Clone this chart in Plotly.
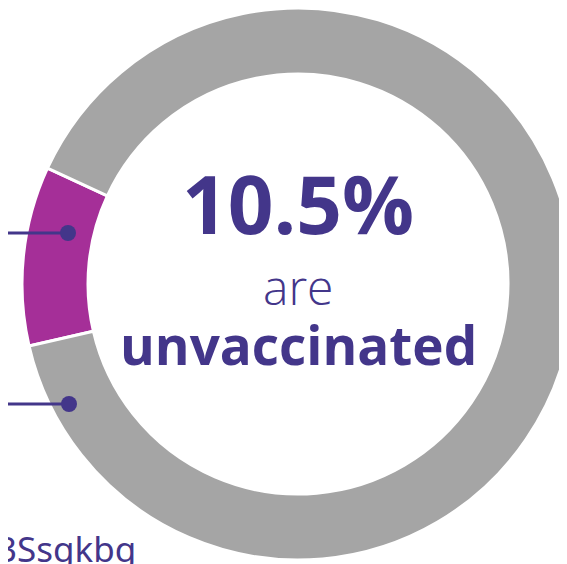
import plotly.graph_objects as go

# ---- data ----
labels = ["Unvaccinated", "Vaccinated"]
values = [10.5, 89.5]
colors = ["#A52F98", "#A5A5A5"]
headline_value = "10.5%"
headline_line1 = "are"
headline_line2 = "unvaccinated"
source_tail = "3Ssgkbg"

W, H = 567, 564
OFF = 8  # page body margin
TEXT = "#43368A"

def px(x):
    return (x - OFF) / W

def py(y):
    return 1 - (y - OFF) / H

# donut geometry (screen pixels)
cx, cy, R, r_in = 298, 284, 276, 210

fig = go.Figure(go.Pie(
    labels=labels,
    values=values,
    marker=dict(colors=colors, line=dict(color="white", width=3)),
    hole=r_in / R,
    sort=False,
    direction="clockwise",
    rotation=257,
    textinfo="none",
    hoverinfo="label+percent",
    showlegend=False,
    domain=dict(x=[max(0, px(cx - R)), min(1, px(cx + R))],
                y=[max(0, py(cy + R)), min(1, py(cy - R))]),
))

shapes = []
for (x1, y1) in [(68, 233), (69, 404)]:
    shapes.append(dict(type="line", xref="paper", yref="paper",
                       x0=0, x1=px(x1), y0=py(y1), y1=py(y1),
                       line=dict(color=TEXT, width=3)))
    shapes.append(dict(type="circle", xref="paper", yref="paper",
                       x0=px(x1 - 8), x1=px(x1 + 8), y0=py(y1 + 8), y1=py(y1 - 8),
                       fillcolor=TEXT, line=dict(width=0)))

annotations = [
    dict(text=headline_value, x=px(298), y=py(202), xref="paper", yref="paper",
         showarrow=False, xanchor="center", yanchor="middle",
         font=dict(family="Open Sans", size=80, color=TEXT, weight=700)),
    dict(text=headline_line1, x=px(298), y=py(286), xref="paper", yref="paper",
         showarrow=False, xanchor="center", yanchor="middle",
         font=dict(family="Open Sans", size=48, color=TEXT, weight=300)),
    dict(text=headline_line2, x=px(298), y=py(345), xref="paper", yref="paper",
         showarrow=False, xanchor="center", yanchor="middle",
         font=dict(family="Open Sans", size=53, color=TEXT, weight=700)),
    dict(text=source_tail, x=px(138), y=py(548), xref="paper", yref="paper",
         showarrow=False, xanchor="right", yanchor="middle",
         font=dict(family="Noto Sans", size=35, color=TEXT)),
]

fig.update_layout(
    width=W, height=H,
    margin=dict(l=0, r=0, t=0, b=0),
    paper_bgcolor="white",
    plot_bgcolor="white",
    shapes=shapes,
    annotations=annotations,
)

fig.write_html("out.html")
